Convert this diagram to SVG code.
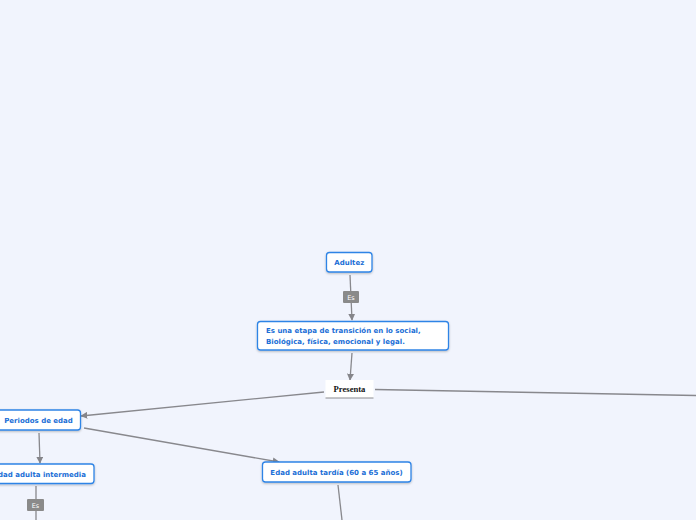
<svg xmlns="http://www.w3.org/2000/svg" width="696" height="520" viewBox="0 0 696 520">
<defs>
<marker id="arr" viewBox="0 0 10 10" refX="9" refY="5" markerWidth="7" markerHeight="7" markerUnits="userSpaceOnUse" orient="auto"><path d="M0,0 L10,5 L0,10 z" fill="#85858a"/></marker>
<filter id="sh" x="-10%" y="-20%" width="120%" height="150%"><feDropShadow dx="0" dy="1" stdDeviation="0.8" flood-color="#000" flood-opacity="0.25"/></filter>
</defs>
<style>
.node rect.b{fill:#fff;stroke:#2f84e6;stroke-width:1.3;filter:url(#sh)}
.t{font-family:"DejaVu Sans",Verdana,sans-serif;font-weight:bold;font-size:7px;fill:#1a6ed6}
.c{fill:none;stroke:#88888d;stroke-width:1.3}
.lb{fill:#8a8a8a}
.lt{font-family:"DejaVu Sans",sans-serif;font-size:6.5px;fill:#fff}
</style>
<rect width="696" height="520" fill="#f1f4fd"/>
<g id="connectors">
<line class="c" x1="350" y1="275" x2="352" y2="320" marker-end="url(#arr)"/>
<rect class="lb" x="343" y="291" width="16" height="12" rx="1"/>
<text class="lt" x="351" y="299.5" text-anchor="middle">Es</text>
<line class="c" x1="352" y1="353" x2="350" y2="380" marker-end="url(#arr)"/>
<line class="c" x1="375" y1="389.5" x2="696" y2="395.5"/>
<line class="c" x1="324" y1="392" x2="81" y2="416" marker-end="url(#arr)"/>
<line class="c" x1="84" y1="428" x2="279" y2="462" marker-end="url(#arr)"/>
<line class="c" x1="39" y1="433" x2="40" y2="463" marker-end="url(#arr)"/>
<line class="c" x1="36" y1="486" x2="36" y2="520"/>
<rect class="lb" x="27" y="499" width="17" height="12" rx="1"/>
<text class="lt" x="35.5" y="507.5" text-anchor="middle">Es</text>
<line class="c" x1="338" y1="485" x2="342" y2="520"/>
</g>
<g id="adultez" class="node">
<rect class="b" x="326.5" y="252.5" width="45.5" height="19.5" rx="3"/>
<text class="t" x="349.25" y="265" text-anchor="middle">Adultez</text>
</g>
<g id="etapa" class="node">
<rect class="b" x="257.5" y="321.5" width="191" height="28.5" rx="3"/>
<text class="t" x="266" y="333">Es una etapa de transición en lo social,</text>
<text class="t" x="266" y="343.5">Biológica, física, emocional y legal.</text>
</g>
<g id="presenta" class="node">
<rect x="325.5" y="380" width="48" height="18" fill="#fff"/>
<line x1="325.5" y1="398" x2="373.5" y2="398" stroke="#8a8a8f" stroke-width="1"/>
<text x="349.5" y="392" text-anchor="middle" font-family="'Liberation Serif','Times New Roman',serif" font-weight="bold" font-size="8.6" fill="#111">Presenta</text>
</g>
<g id="periodos" class="node">
<rect class="b" x="-5" y="410" width="85.5" height="20" rx="3"/>
<text class="t" x="38.5" y="423" text-anchor="middle">Periodos de edad</text>
</g>
<g id="intermedia" class="node">
<rect class="b" x="-16" y="464" width="110" height="19.5" rx="3"/>
<text class="t" x="86" y="476.5" text-anchor="end">Edad adulta intermedia</text>
</g>
<g id="tardia" class="node">
<rect class="b" x="262.5" y="462" width="148.5" height="20" rx="3"/>
<text class="t" x="336.5" y="474.5" text-anchor="middle">Edad adulta tardía (60 a 65 años)</text>
</g>
</svg>
